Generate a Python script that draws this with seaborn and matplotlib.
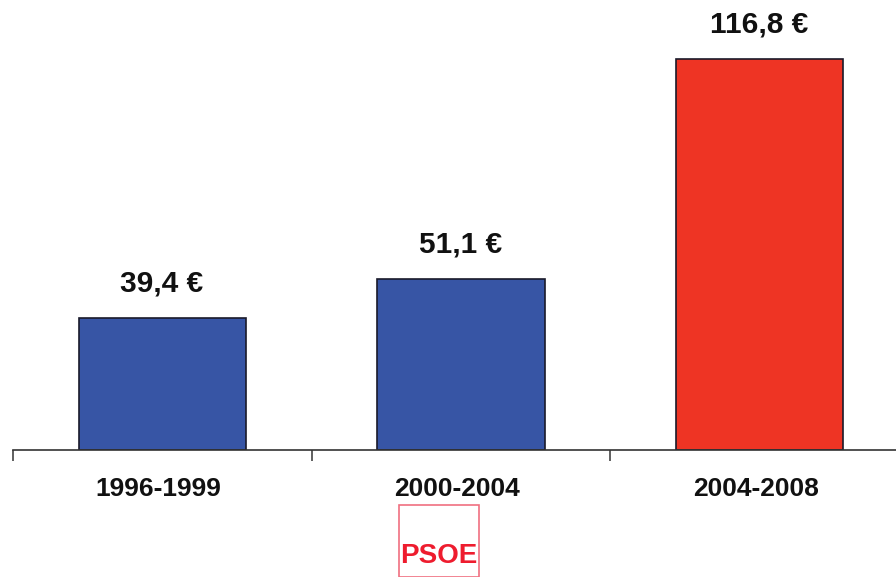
import matplotlib
matplotlib.use("Agg")
import matplotlib.pyplot as plt
import seaborn as sns
import pandas as pd
from matplotlib.patches import Rectangle

periods = ["1996-1999", "2000-2004", "2004-2008"]
values = [39.4, 51.1, 116.8]
labels = ["39,4 €", "51,1 €", "116,8 €"]
colors = ["#3755a5", "#3755a5", "#ee3424"]

sns.set_theme(style="white")
plt.rcParams['font.family'] = ['Liberation Sans', 'DejaVu Sans']

W, H = 896, 577
fig = plt.figure(figsize=(W / 100, H / 100), dpi=100)
base_y = 449.5
ax = fig.add_axes([13 / W, (H - base_y) / H, 1 - 13 / W, base_y / H])

df = pd.DataFrame({"period": periods, "value": values})
sns.barplot(data=df, x="period", y="value", hue="period", palette=colors,
            width=0.56, edgecolor="#1a1a2a", linewidth=1.2, legend=False, ax=ax,
            saturation=1)

ax.set_xlim(-0.5, 2.456)
ax.set_ylim(0, base_y / 3.345)
for s in ["top", "right", "left"]:
    ax.spines[s].set_visible(False)
ax.spines["bottom"].set_color("#333333")
ax.spines["bottom"].set_linewidth(1.2)
ax.set_yticks([])
ax.set_xticks([-0.5, 0.5, 1.5])
ax.set_xticklabels([])
ax.tick_params(axis="x", length=8, width=1.2, color="#444444", direction="out", bottom=True)
ax.set_xlabel("")
ax.set_ylabel("")

for i, (v, lab) in enumerate(zip(values, labels)):
    ax.annotate(lab, (i, v), xytext=(-1, 26), textcoords="offset pixels",
                ha="center", va="baseline", fontsize=21.5, fontweight="bold", color="#111111")
    ax.annotate(periods[i], (i, 0), xytext=(-4, -39), textcoords="offset pixels",
                ha="center", va="center", fontsize=19, fontweight="bold", color="#111111",
                annotation_clip=False)

# PSOE logo box
fig.add_artist(Rectangle((399 / W, 0), 80 / W, (H - 505) / H, transform=fig.transFigure,
                         facecolor="white", edgecolor="#f07080", linewidth=1.2))
fig.text(439 / W, (H - 556) / H, "PSOE", ha="center", va="center", fontsize=20,
         fontweight="bold", color="#ee1c2e")

fig.savefig("out.png", dpi=100)
